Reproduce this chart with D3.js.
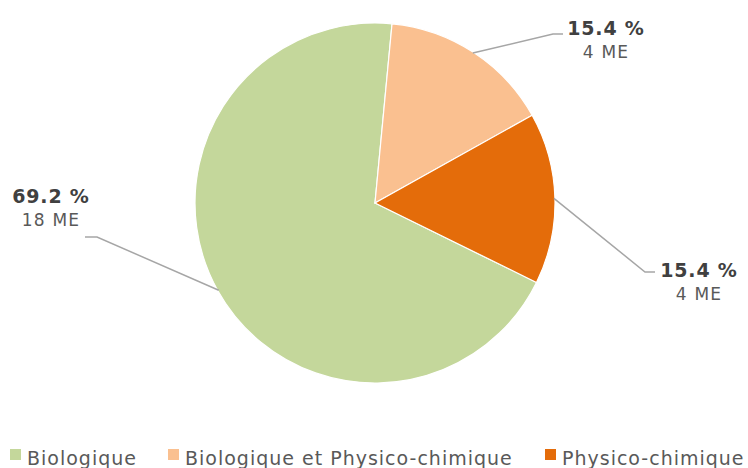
<!DOCTYPE html>
<html>
  <head>
    <meta charset="utf-8">
    <title>Pie</title>
    <script src="https://d3js.org/d3.v7.min.js"></script>
    <style>
body { margin: 0; background: #fff; }
svg { font-family: "DejaVu Sans", sans-serif; }
    </style>
  </head>
  <body>
<script>
// data
var categories = ["Biologique", "Biologique et Physico-chimique", "Physico-chimique"];
var values = [18, 4, 4];
var percents = ["69.2 %", "15.4 %", "15.4 %"];
var amounts = ["18 ME", "4 ME", "4 ME"];
var colors = ["#C4D79B", "#FAC090", "#E46C0A"];

// label placement (elbow of leader line, label anchor)
var labelLayout = [
  {ex: 97, ey: 237, hx: 85, tx: 51, ty: 203},
  {ex: 553, ey: 34, hx: 563, tx: 606, ty: 35},
  {ex: 645, ey: 272, hx: 655, tx: 699, ty: 277}
];

var width = 748, height = 468,
    cx = 375, cy = 203, radius = 180,
    startAngle = 116.2 * Math.PI / 180;

var svg = d3.select("body").append("svg")
  .attr("width", width)
  .attr("height", height);

var pie = d3.pie()
  .sort(null)
  .startAngle(startAngle)
  .endAngle(startAngle + 2 * Math.PI);

var arc = d3.arc().innerRadius(0).outerRadius(radius);

var arcs = pie(values);

var g = svg.append("g").attr("transform", "translate(" + cx + "," + cy + ")");

g.selectAll("path").data(arcs).enter().append("path")
  .attr("d", arc)
  .attr("fill", function(d, i) { return colors[i]; })
  .attr("stroke", "#fff")
  .attr("stroke-width", 1.2);

// leader lines
svg.selectAll("polyline.lead").data(arcs).enter().append("polyline")
  .attr("class", "lead")
  .attr("fill", "none")
  .attr("stroke", "#A6A6A6")
  .attr("stroke-width", 1.5)
  .attr("points", function(d, i) {
    var a = (d.startAngle + d.endAngle) / 2,
        r = radius - 1,
        x0 = cx + r * Math.sin(a),
        y0 = cy - r * Math.cos(a),
        L = labelLayout[i];
    return [[x0, y0], [L.ex, L.ey], [L.hx, L.ey]].join(" ");
  });

var labels = svg.selectAll("g.lbl").data(arcs).enter().append("g")
  .attr("class", "lbl");

labels.append("text")
  .attr("x", function(d, i) { return labelLayout[i].tx; })
  .attr("y", function(d, i) { return labelLayout[i].ty; })
  .attr("text-anchor", "middle")
  .attr("font-size", 19)
  .attr("font-weight", "bold")
  .attr("letter-spacing", 0.8)
  .attr("fill", "#404040")
  .text(function(d, i) { return percents[i]; });

labels.append("text")
  .attr("x", function(d, i) { return labelLayout[i].tx; })
  .attr("y", function(d, i) { return labelLayout[i].ty + 23; })
  .attr("text-anchor", "middle")
  .attr("font-size", 17)
  .attr("letter-spacing", 1.2)
  .attr("fill", "#595959")
  .text(function(d, i) { return amounts[i]; });

// legend
var legendX = [10, 168, 545];
var legend = svg.selectAll("g.leg").data(categories).enter().append("g")
  .attr("class", "leg")
  .attr("transform", function(d, i) { return "translate(" + legendX[i] + ",448)"; });

legend.append("rect")
  .attr("width", 11).attr("height", 11)
  .attr("y", 1)
  .attr("fill", function(d, i) { return colors[i]; });

legend.append("text")
  .attr("x", 17)
  .attr("y", 17)
  .attr("font-size", 19)
  .attr("letter-spacing", 1)
  .attr("fill", "#595959")
  .text(function(d) { return d; });
</script>
  </body>
</html>
